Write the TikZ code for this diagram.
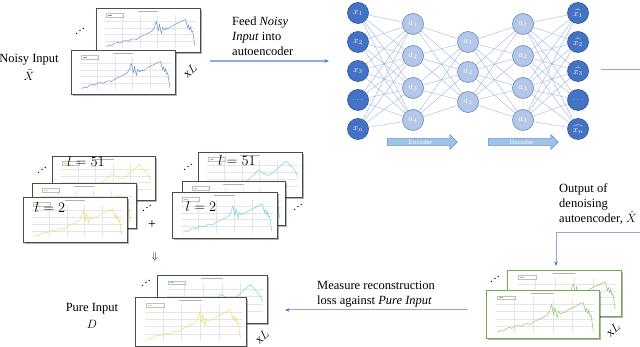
\documentclass[tikz,border=0pt]{standalone}
\usepackage{fontspec}
\setmainfont{Liberation Serif}
\usetikzlibrary{arrows.meta,shapes.arrows,shadows,backgrounds}
\definecolor{darkn}{RGB}{68,114,196}
\definecolor{darkb}{RGB}{47,82,143}
\definecolor{lightn}{RGB}{180,199,231}
\definecolor{nnedgec}{RGB}{150,178,228}
\definecolor{conn}{RGB}{143,170,220}
\definecolor{connd}{RGB}{68,114,196}
\definecolor{ylw}{RGB}{238,222,110}
\definecolor{cyn}{RGB}{110,212,235}
\definecolor{blu}{RGB}{100,150,215}
\definecolor{grn}{RGB}{112,173,71}
\definecolor{grnl}{RGB}{140,200,110}
\definecolor{framec}{RGB}{75,75,75}
\definecolor{arrfill}{RGB}{157,195,230}
\newcommand\udots{\mbox{.\kern0.3pt\raisebox{2.5pt}{.}\kern0.3pt\raisebox{5pt}{.}}}
\newcommand\curveA[1]{\draw[#1, line width=0.5pt, line join=round] (0.10,0.88) -- (0.13,0.84) -- (0.15,0.86) -- (0.18,0.80) -- (0.21,0.78) -- (0.23,0.80) -- (0.26,0.75) -- (0.29,0.74) -- (0.31,0.76) -- (0.34,0.71) -- (0.37,0.70) -- (0.39,0.72) -- (0.42,0.66) -- (0.45,0.63) -- (0.48,0.60) -- (0.51,0.56) -- (0.54,0.52) -- (0.56,0.45) -- (0.58,0.30) -- (0.59,0.42) -- (0.60,0.52) -- (0.61,0.36) -- (0.62,0.48) -- (0.63,0.58) -- (0.64,0.44) -- (0.66,0.50) -- (0.68,0.46) -- (0.70,0.47) -- (0.72,0.42) -- (0.74,0.40) -- (0.76,0.37) -- (0.78,0.35) -- (0.80,0.33) -- (0.82,0.30) -- (0.84,0.28) -- (0.86,0.26) -- (0.87,0.34) -- (0.88,0.45) -- (0.89,0.38) -- (0.90,0.50) -- (0.91,0.42) -- (0.92,0.55) -- (0.93,0.52) -- (0.94,0.70) -- (0.95,0.85);}
\newcommand\curveB[1]{\draw[#1, line width=0.5pt, line join=round] (0.30,0.95) -- (0.35,0.88) -- (0.40,0.80) -- (0.45,0.70) -- (0.50,0.58) -- (0.55,0.48) -- (0.58,0.40) -- (0.62,0.45) -- (0.66,0.52) -- (0.70,0.50) -- (0.74,0.42) -- (0.78,0.34) -- (0.82,0.25) -- (0.85,0.20) -- (0.88,0.28) -- (0.91,0.35) -- (0.94,0.45) -- (0.96,0.55);}
\newcommand\chartbox[8]{%
  \node[chartframe, draw=#7, minimum width=#4pt, minimum height=#5pt, anchor=north west] (#1) at (#2,#3) {};
  \begin{scope}[shift={(#2,#3)}, xscale=#4, yscale=#5]
    \foreach \gv in {0.3,0.45,0.6,0.75} \draw[gridc] (0.09,\gv) -- (0.96,\gv);
    \foreach \gu in {0.25,0.42,0.59,0.76} \draw[gridc] (\gu,0.17) -- (\gu,0.9);
    \draw[black!30, line width=0.7pt] (0.40,0.07) -- (0.60,0.07);
    \draw[black!25, line width=0.3pt] (0.10,0.12) rectangle (0.26,0.20);
    \draw[#6, line width=0.6pt] (0.115,0.16) -- (0.15,0.16);
    \csname curve#8\endcsname{#6}
  \end{scope}}
\tikzset{
  dnode/.style={circle, draw=darkb, fill=darkn, line width=0.6pt, minimum size=21pt, inner sep=0pt, text=white, font=\fontsize{9}{9}\selectfont},
  lnode/.style={circle, draw=darkn!85, fill=lightn, line width=0.6pt, minimum size=21pt, inner sep=0pt, text=white, font=\fontsize{9}{9}\selectfont},
  nnedge/.style={draw=nnedgec, line width=0.35pt},
  blockarrow/.style={single arrow, draw=darkn!85, fill=arrfill, line width=0.5pt, minimum height=70pt, single arrow head extend=4pt, inner xsep=1pt, inner ysep=0.8pt, text=white, font=\sffamily\fontsize{6.5}{6.5}\selectfont, anchor=west},
  lbl/.style={font=\fontsize{12.5}{15}\selectfont, align=left, inner sep=0pt, anchor=north west},
  clbl/.style={font=\fontsize{12.5}{12.5}\selectfont, inner sep=0pt},
  llabel/.style={font=\fontsize{15}{15}\selectfont, inner sep=0pt},
  dotsl/.style={font=\fontsize{12}{12}\selectfont, inner sep=0pt},
  timesl/.style={font=\fontsize{12}{12}\selectfont, inner sep=0pt, rotate=40},
  chartframe/.style={fill=white, line width=1pt, inner sep=0pt, drop shadow={shadow xshift=1.2pt, shadow yshift=-1.2pt, fill=black, opacity=0.3}},
  gridc/.style={draw=black!10, line width=0.3pt},
  connline/.style={draw=conn, line width=1pt},
  tip/.style={-{Stealth[length=4.5pt,width=3.5pt,color=connd]}}
}
\begin{document}
\begin{tikzpicture}[x=1pt,y=-1pt]
\useasboundingbox (0,0) rectangle (640,347);

% ---------- Noisy input charts ----------
\chartbox{nb}{96}{8}{104}{44}{blu}{framec}{A}
\chartbox{nf}{71}{50}{104}{44}{blu}{framec}{A}
\node[dotsl] (nd) at (80,31) {\udots};
\node[timesl] (nx) at (190,71) {x$L$};
\node[clbl] (noisy) at (29,60) {Noisy Input};
\node[clbl] (noisyx) at (29,75) {$\tilde{X}$};

% ---------- Feed arrow ----------
\node[lbl] (feed) at (232,17) {Feed \textit{Noisy}\\\textit{Input} into\\autoencoder};
\coordinate (f1) at (210,61);
\coordinate (f2) at (329,61);
\draw[connline, line width=1.4pt, tip] (f1) -- (f2);

% ---------- Neural network ----------
\foreach \i/\y/\t in {1/13/x_1, 2/42/x_2, 3/71/x_3, 4/100/\dots, 5/129/x_n}
  \node[dnode] (i\i) at (358,\y) {$\t$};
\foreach \i/\y in {1/24, 2/56, 3/88, 4/120}
  \node[lnode] (h\i) at (413,\y) {$a_\i$};
\foreach \i/\y in {1/42, 2/72, 3/102}
  \node[lnode] (c\i) at (468,\y) {$a_\i$};
\foreach \i/\y in {1/24, 2/56, 3/88, 4/120}
  \node[lnode] (g\i) at (523,\y) {$a_\i$};
\foreach \i/\y/\t in {1/13/{\widehat{x_1}}, 2/42/{\widehat{x_2}}, 3/71/{\widehat{x_3}}, 4/100/\dots, 5/129/{\widehat{x_n}}}
  \node[dnode] (o\i) at (578,\y) {$\t$};
\begin{pgfonlayer}{background}
  \fill[white] (0,0) rectangle (640,347);
  \foreach \a in {1,...,5} \foreach \b in {1,...,4} \draw[nnedge] (i\a) -- (h\b);
  \foreach \a in {1,...,4} \foreach \b in {1,...,3} \draw[nnedge] (h\a) -- (c\b);
  \foreach \a in {1,...,3} \foreach \b in {1,...,4} \draw[nnedge] (c\a) -- (g\b);
  \foreach \a in {1,...,4} \foreach \b in {1,...,5} \draw[nnedge] (g\a) -- (o\b);
\end{pgfonlayer}
\node[blockarrow] (enc) at (387,142) {Encoder};
\node[blockarrow] (dec) at (488,142) {Decoder};

% ---------- Output lines ----------
\coordinate (r1) at (601,70);
\coordinate (r2) at (640,70);
\draw[connline] (r1) -- (r2);
\coordinate (r3) at (640,233);
\coordinate (r4) at (556,233);
\coordinate (r5) at (556,266);
\draw[connline, tip] (r3) -- (r4) -- (r5);
\node[lbl] (outtxt) at (559,183.5) {Output of\\denoising\\autoencoder, $\hat{X}$};

% ---------- Green output charts ----------
\chartbox{gb}{507}{270}{114}{46}{grnl}{grn}{A}
\chartbox{gf}{486}{290}{113}{48}{grnl}{grn}{A}
\node[dotsl] (gd) at (495,279) {\udots};
\node[timesl] (gx) at (613,330) {x$L$};

% ---------- Measure arrow ----------
\node[lbl] (meas) at (317,281.5) {Measure reconstruction\\loss against \textit{Pure Input}};
\coordinate (m1) at (468,310);
\coordinate (m2) at (285,310);
\draw[connline, tip] (m1) -- (m2);

% ---------- Yellow stack ----------
\chartbox{yb}{52}{156}{103}{44}{ylw}{framec}{B}
\chartbox{ym}{32}{183}{104}{45}{ylw}{framec}{A}
\chartbox{yf}{23}{197}{104}{45}{ylw}{framec}{A}
\node[llabel] (yl51) at (86,162) {$l = 51$};
\node[llabel] (yl2) at (50,208) {$l = 2$};
\node[dotsl] (yd1) at (42,170) {\udots};
\node[dotsl] (yd2) at (147,208) {\udots};
\node[font=\fontsize{14}{14}\selectfont, inner sep=0pt] (plus) at (152,225) {+};

% ---------- Cyan stack ----------
\chartbox{cb}{198}{152}{104}{45}{cyn}{framec}{B}
\chartbox{cm}{182}{181}{103}{44}{cyn}{framec}{A}
\chartbox{cf}{172}{192}{105}{46}{cyn}{framec}{A}
\node[llabel] (cl51) at (237,161) {$l = 51$};
\node[llabel] (cl2) at (201,207) {$l = 2$};
\node[dotsl] (cd1) at (188,167) {\udots};
\node[dotsl] (cd2) at (298,207) {\udots};

% ---------- Pure input ----------
\node[inner sep=0pt] (down) at (155,257) {$\Downarrow$};
\chartbox{pb}{157}{275}{110}{48}{cyn}{framec}{B}
\chartbox{pf}{135}{297}{111}{49}{ylw}{framec}{A}
\node[dotsl] (pd) at (146,283) {\udots};
\node[timesl] (px) at (262,337) {x$L$};
\node[clbl] (pure) at (92,309) {Pure Input};
\node[clbl] (pured) at (92,324) {$D$};
\end{tikzpicture}
\end{document}
